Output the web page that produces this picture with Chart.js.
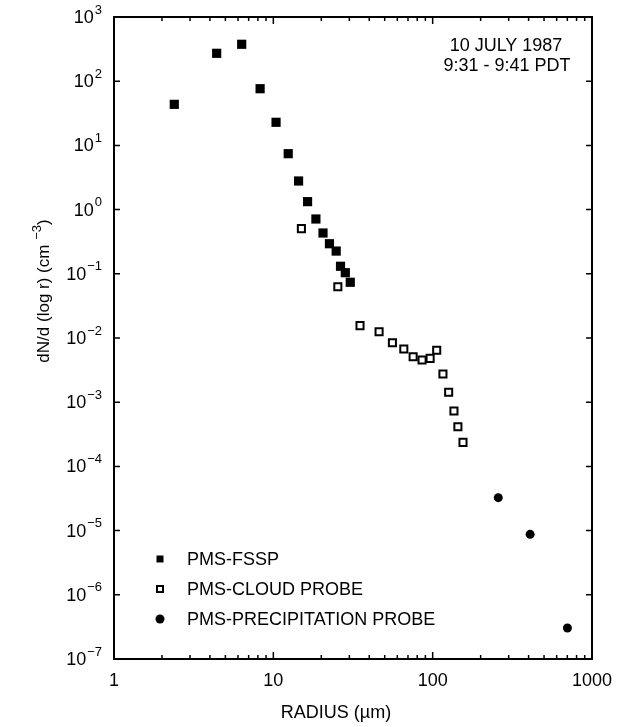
<!DOCTYPE html>
<html>
<head>
<meta charset="utf-8">
<script src="https://cdn.jsdelivr.net/npm/chart.js@4.4.0/dist/chart.umd.min.js"></script>
<style>
  html, body { margin: 0; padding: 0; background: #fff; }
  canvas { display: block; }
</style>
</head>
<body>
<canvas id="chart" width="617" height="727"></canvas>
<script>
// droplet spectra
const fsspRadius = [2.39, 4.41, 6.33, 8.26, 10.4, 12.4, 14.4, 16.4, 18.5, 20.5, 22.5, 24.8, 26.4, 28.3, 30.4];
const fsspCount = [43.6, 272, 376, 76.4, 22.9, 7.43, 2.79, 1.33, 0.714, 0.432, 0.294, 0.226, 0.131, 0.104, 0.0738];

const cloudRadius = [15.0, 25.4, 35.0, 46.1, 55.9, 65.9, 75.4, 85.8, 96.4, 106, 116, 126, 136, 144, 155];
const cloudCount = [0.505, 0.063, 0.0156, 0.0125, 0.00845, 0.00675, 0.00512, 0.00454, 0.00482, 0.00643, 0.00275, 0.00143, 0.00073, 0.000415, 0.000237];

const precipRadius = [258, 409, 701];
const precipCount = [3.26e-5, 8.75e-6, 3.04e-7];

const seriesNames = ["PMS-FSSP", "PMS-CLOUD PROBE", "PMS-PRECIPITATION PROBE"];
const yTickExponents = [3, 2, 1, 0, -1, -2, -3, -4, -5, -6, -7];
const xTickLabels = ["1", "10", "100", "1000"];
const annotation = ["10 JULY 1987", "9:31 - 9:41 PDT"];

const FONT = "Liberation Sans, Arial, Helvetica, sans-serif";
const BIG = "18px " + FONT;
const SMALL = "13px " + FONT;

function toPoints(xs, ys) {
  return xs.map((v, i) => ({ x: v, y: ys[i] }));
}

// frame, inward ticks, labels and legend
const framePlugin = {
  id: "frame",
  afterDraw(chart) {
    const ctx = chart.ctx;
    const { left, right, top, bottom } = chart.chartArea;
    const xs = chart.scales.x;
    const ys = chart.scales.y;
    ctx.save();
    ctx.strokeStyle = "#000";
    ctx.fillStyle = "#000";
    ctx.lineWidth = 2;
    ctx.strokeRect(left, top, right - left, bottom - top);

    // y ticks, both sides
    ctx.lineWidth = 1.5;
    yTickExponents.forEach(e => {
      const py = ys.getPixelForValue(Math.pow(10, e));
      ctx.beginPath();
      ctx.moveTo(left, py); ctx.lineTo(left + 6, py);
      ctx.moveTo(right, py); ctx.lineTo(right - 6, py);
      ctx.stroke();
    });

    // x ticks, bottom and top
    [1, 10, 100].forEach(d => {
      for (let m = 1; m <= 9; m++) {
        const px = xs.getPixelForValue(d * m);
        const len = m === 1 ? 7 : 4;
        ctx.beginPath();
        ctx.moveTo(px, bottom); ctx.lineTo(px, bottom - len);
        ctx.moveTo(px, top); ctx.lineTo(px, top + len);
        ctx.stroke();
      }
    });

    // y tick labels with superscript exponent
    ctx.textBaseline = "middle";
    yTickExponents.forEach(e => {
      const py = ys.getPixelForValue(Math.pow(10, e));
      const sup = e < 0 ? "\u2212" + Math.abs(e) : String(e);
      ctx.font = SMALL;
      const sw = ctx.measureText(sup).width;
      ctx.textAlign = "right";
      ctx.fillText(sup, 102, py - 7);
      ctx.font = BIG;
      ctx.fillText("10", 102 - sw - 1, py + 1);
    });

    // x tick labels
    ctx.font = BIG;
    ctx.textAlign = "center";
    xTickLabels.forEach(t => {
      ctx.fillText(t, xs.getPixelForValue(Number(t)), 681);
    });

    // axis titles
    ctx.fillText("RADIUS (\u00b5m)", 336, 713);

    ctx.save();
    ctx.translate(44, 291);
    ctx.rotate(-Math.PI / 2);
    const main = "dN/d (log r) (cm ";
    const sup = "\u22123";
    const tail = ")";
    ctx.font = "17px " + FONT;
    const w1 = ctx.measureText(main).width;
    const w3 = ctx.measureText(tail).width;
    ctx.font = SMALL;
    const w2 = ctx.measureText(sup).width;
    let sx = -(w1 + w2 + w3) / 2;
    ctx.textAlign = "left";
    ctx.font = "17px " + FONT;
    ctx.fillText(main, sx, 0);
    ctx.font = SMALL;
    ctx.fillText(sup, sx + w1, -7);
    ctx.font = "17px " + FONT;
    ctx.fillText(tail, sx + w1 + w2, 0);
    ctx.restore();

    // annotation
    ctx.font = BIG;
    ctx.textAlign = "center";
    ctx.fillText(annotation[0], 506, 46);
    ctx.fillText(annotation[1], 507, 66);

    // legend
    const rows = [559, 589, 619];
    const mx = 160;
    ctx.fillRect(mx - 3.5, rows[0] - 3.5, 7, 7);
    ctx.lineWidth = 2;
    ctx.fillStyle = "#fff";
    ctx.fillRect(mx - 3, rows[1] - 3, 6, 6);
    ctx.strokeRect(mx - 3, rows[1] - 3, 6, 6);
    ctx.fillStyle = "#000";
    ctx.beginPath();
    ctx.arc(mx, rows[2], 4.5, 0, Math.PI * 2);
    ctx.fill();
    ctx.textAlign = "left";
    ctx.font = BIG;
    seriesNames.forEach((n, i) => ctx.fillText(n, 187, rows[i] + 1));

    ctx.restore();
  }
};

new Chart(document.getElementById("chart").getContext("2d"), {
  type: "scatter",
  data: {
    datasets: [
      {
        label: seriesNames[1],
        data: toPoints(cloudRadius, cloudCount),
        pointStyle: "rect",
        pointRadius: 5,
        pointBorderWidth: 2,
        backgroundColor: "#fff",
        borderColor: "#000"
      },
      {
        label: seriesNames[0],
        data: toPoints(fsspRadius, fsspCount),
        pointStyle: "rect",
        pointRadius: 6.5,
        pointBorderWidth: 0,
        backgroundColor: "#000",
        borderColor: "#000"
      },
      {
        label: seriesNames[2],
        data: toPoints(precipRadius, precipCount),
        pointStyle: "circle",
        pointRadius: 4.5,
        pointBorderWidth: 0,
        backgroundColor: "#000",
        borderColor: "#000"
      }
    ]
  },
  options: {
    responsive: false,
    animation: false,
    layout: { padding: { left: 114, right: 25, top: 17, bottom: 68 } },
    plugins: {
      legend: { display: false },
      tooltip: { enabled: false }
    },
    scales: {
      x: { type: "logarithmic", min: 1, max: 1000, display: false },
      y: { type: "logarithmic", min: 1e-7, max: 1e3, display: false }
    }
  },
  plugins: [framePlugin]
});
</script>
</body>
</html>
